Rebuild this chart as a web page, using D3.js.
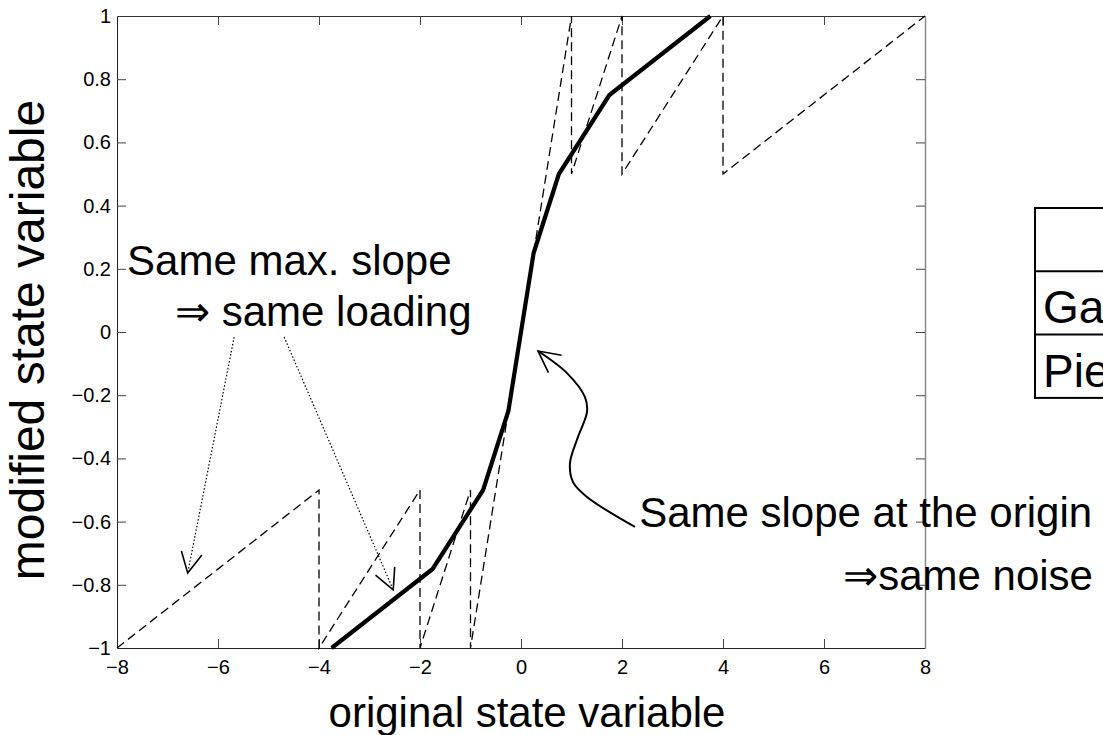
<!DOCTYPE html>
<html>
<head>
<meta charset="utf-8">
<script src="https://cdn.jsdelivr.net/npm/d3@7"></script>
<style>
  html, body { margin: 0; padding: 0; background: #fff; overflow: hidden; }
  svg { display: block; font-family: "Liberation Sans", Arial, Helvetica, sans-serif; }
</style>
</head>
<body>
<svg id="chart" width="1103" height="735"></svg>
<script>
// ---------- data ----------
const xTicks = [-8, -6, -4, -2, 0, 2, 4, 6, 8];
const yTicks = [-1, -0.8, -0.6, -0.4, -0.2, 0, 0.2, 0.4, 0.6, 0.8, 1];
// sawtooth (dashed) mapping
const sawX = [-8, -4, -4, -2, -2, -1, -1, 1, 1, 2, 2, 4, 4, 8];
const sawY = [-1, -0.5, -1, -0.5, -1, -0.5, -1, 1, 0.5, 1, 0.5, 1, 0.5, 1];
// piecewise-linear (thick) mapping
const pwX = [-3.75, -1.75, -0.75, -0.25, 0.25, 0.75, 1.75, 3.75];
const pwY = [-1, -0.75, -0.5, -0.25, 0.25, 0.5, 0.75, 1];
// texts
const xLabel = "original state variable";
const yLabel = "modified state variable";
const note1 = ["Same max. slope", "\u21D2 same loading"];
const note2 = ["Same slope at the origin", "\u21D2same noise"];
const legendRows = ["", "Ga", "Pie"];
// annotation anchors (data units)
const note1Pos = [[-7.8, 0.18], [-6.85, 0.02]];
const note2Pos = [[2.34, -0.617], [6.38, -0.816]];
const dotArrows = [
  { from: [-5.68, -0.016], to: [-6.6, -0.763] },
  { from: [-4.69, -0.016], to: [-2.53, -0.816] }
];
const wavyX = [2.257, 1.307, 1.03, 0.97, 1.129, 1.307, 1.267, 0.911, 0.337];
const wavyY = [-0.617, -0.522, -0.475, -0.415, -0.332, -0.253, -0.206, -0.13, -0.06];

// ---------- layout ----------
const svg = d3.select("#chart");
const x = d3.scaleLinear().domain([-8, 8]).range([117, 925]);
const y = d3.scaleLinear().domain([-1, 1]).range([648, 16]);

// ---------- axes ----------
const fmt = d3.format("~g");
const tickFont = 20;

const gB = svg.append("g").attr("transform", `translate(0,${y(-1)})`)
  .call(d3.axisBottom(x).tickValues(xTicks).tickFormat(fmt).tickSizeInner(-9).tickSizeOuter(0).tickPadding(12));
const gL = svg.append("g").attr("transform", `translate(${x(-8)},0)`)
  .call(d3.axisLeft(y).tickValues(yTicks).tickFormat(fmt).tickSizeInner(-9).tickSizeOuter(0).tickPadding(6));
const gT = svg.append("g").attr("transform", `translate(0,${y(1)})`)
  .call(d3.axisTop(x).tickValues(xTicks).tickFormat("").tickSizeInner(-9).tickSizeOuter(0));
const gR = svg.append("g").attr("transform", `translate(${x(8)},0)`)
  .call(d3.axisRight(y).tickValues(yTicks).tickFormat("").tickSizeInner(-9).tickSizeOuter(0));

[gB, gL, gT, gR].forEach(g => {
  g.selectAll("text").attr("font-size", tickFont).attr("fill", "#000")
    .attr("font-family", "'Liberation Sans', Arial, sans-serif");
  g.selectAll(".tick line").attr("stroke", "#444").attr("stroke-width", 1);
});
gB.select(".domain").attr("stroke", "#222");
gL.select(".domain").attr("stroke", "#222");
gT.select(".domain").attr("stroke", "#333");
gR.select(".domain").attr("stroke", "#8a8a8a").attr("stroke-width", 1.5);
// remove ticks that sit on the box corners
[gB, gT].forEach(g => g.selectAll(".tick").filter(d => d === -8 || d === 8).select("line").remove());
[gL, gR].forEach(g => g.selectAll(".tick").filter(d => d === -1 || d === 1).select("line").remove());

// ---------- series ----------
const line = d3.line().x(d => x(d[0])).y(d => y(d[1]));

svg.append("path")
  .datum(sawX.map((v, i) => [v, sawY[i]]))
  .attr("d", line)
  .attr("fill", "none").attr("stroke", "#000").attr("stroke-width", 1.3)
  .attr("stroke-dasharray", "9,5");

svg.append("path")
  .datum(pwX.map((v, i) => [v, pwY[i]]))
  .attr("d", line)
  .attr("fill", "none").attr("stroke", "#000").attr("stroke-width", 4.2)
  .attr("stroke-linejoin", "miter");

// ---------- annotations ----------
function arrowHead(g, tip, back, len, halfAngleDeg, width) {
  const ang = Math.atan2(back[1] - tip[1], back[0] - tip[0]);
  const h = halfAngleDeg * Math.PI / 180;
  const p1 = [tip[0] + len * Math.cos(ang + h), tip[1] + len * Math.sin(ang + h)];
  const p2 = [tip[0] + len * Math.cos(ang - h), tip[1] + len * Math.sin(ang - h)];
  g.append("path")
    .attr("d", `M${p1[0]},${p1[1]}L${tip[0]},${tip[1]}L${p2[0]},${p2[1]}`)
    .attr("fill", "none").attr("stroke", "#000").attr("stroke-width", width);
}

const ann = svg.append("g");
dotArrows.forEach(a => {
  const p0 = [x(a.from[0]), y(a.from[1])];
  const p1 = [x(a.to[0]), y(a.to[1])];
  ann.append("line")
    .attr("x1", p0[0]).attr("y1", p0[1]).attr("x2", p1[0]).attr("y2", p1[1])
    .attr("stroke", "#000").attr("stroke-width", 1.2).attr("stroke-dasharray", "1.5,2");
  arrowHead(ann, p1, p0, 23, 27, 1.6);
});

const wavyPts = wavyX.map((v, i) => [x(v), y(wavyY[i])]);
ann.append("path")
  .attr("d", d3.line().curve(d3.curveCatmullRom.alpha(0.5))(wavyPts))
  .attr("fill", "none").attr("stroke", "#000").attr("stroke-width", 2);
arrowHead(ann, wavyPts[wavyPts.length - 1], wavyPts[wavyPts.length - 2], 24, 27, 1.6);

const annFont = 42;
note1.forEach((t, i) => {
  ann.append("text").attr("x", x(note1Pos[i][0])).attr("y", y(note1Pos[i][1]))
    .attr("font-size", annFont).attr("fill", "#000").text(t);
});
note2.forEach((t, i) => {
  ann.append("text").attr("x", x(note2Pos[i][0])).attr("y", y(note2Pos[i][1]))
    .attr("font-size", annFont).attr("fill", "#000").text(t);
});

// ---------- axis labels ----------
svg.append("text").attr("x", 527).attr("y", 727).attr("text-anchor", "middle")
  .attr("font-size", 42).attr("fill", "#000").text(xLabel);
svg.append("text").attr("transform", "translate(44,340) rotate(-90)").attr("text-anchor", "middle")
  .attr("font-size", 48).attr("fill", "#000").text(yLabel);

// ---------- legend table (cut by the right edge) ----------
const leg = svg.append("g");
const legX = 1035, legTop = 208, rowH = 63.3;
leg.append("rect").attr("x", legX).attr("y", legTop).attr("width", 200).attr("height", rowH * legendRows.length)
  .attr("fill", "#fff").attr("stroke", "#000").attr("stroke-width", 2);
legendRows.forEach((t, i) => {
  if (i > 0) {
    leg.append("line").attr("x1", legX).attr("x2", legX + 200)
      .attr("y1", legTop + rowH * i).attr("y2", legTop + rowH * i)
      .attr("stroke", "#000").attr("stroke-width", 2);
  }
  leg.append("text").attr("x", legX + 8).attr("y", legTop + rowH * i + 52)
    .attr("font-size", 46).attr("fill", "#000").text(t);
});
</script>
</body>
</html>
